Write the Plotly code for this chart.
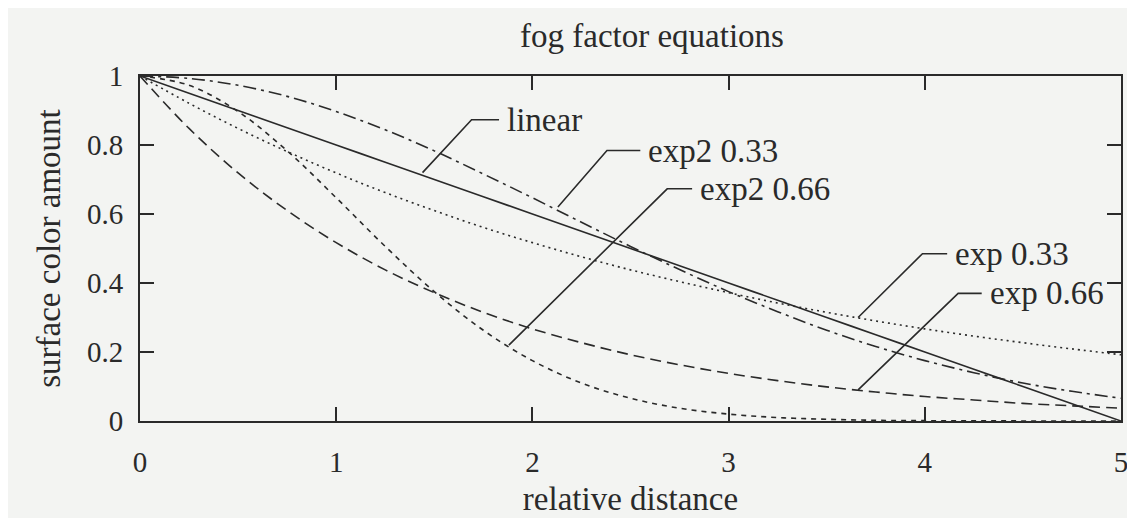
import plotly.graph_objects as go

# relative distance sampled along the x axis
distance = [0, 0.25, 0.5, 0.75, 1, 1.25, 1.5, 1.75, 2, 2.25, 2.5,
            2.75, 3, 3.25, 3.5, 3.75, 4, 4.25, 4.5, 4.75, 5]

# surface color amount
linear = [1, 0.95, 0.9, 0.85, 0.8, 0.75, 0.7, 0.65, 0.6, 0.55, 0.5,
          0.45, 0.4, 0.35, 0.3, 0.25, 0.2, 0.15, 0.1, 0.05, 0]
exp_033 = [1, 0.921, 0.848, 0.781, 0.719, 0.662, 0.610, 0.561, 0.517, 0.476, 0.438,
           0.404, 0.372, 0.342, 0.315, 0.290, 0.267, 0.246, 0.227, 0.209, 0.192]
exp_066 = [1, 0.848, 0.719, 0.610, 0.517, 0.438, 0.372, 0.315, 0.267, 0.227, 0.192,
           0.163, 0.138, 0.117, 0.099, 0.084, 0.071, 0.061, 0.051, 0.044, 0.037]
exp2_033 = [1, 0.993, 0.973, 0.941, 0.897, 0.844, 0.783, 0.716, 0.647, 0.576, 0.506,
            0.439, 0.375, 0.317, 0.263, 0.216, 0.175, 0.140, 0.110, 0.086, 0.066]
exp2_066 = [1, 0.973, 0.897, 0.783, 0.647, 0.506, 0.375, 0.263, 0.175, 0.110, 0.066,
            0.037, 0.020, 0.010, 0.005, 0.002, 0.001, 0.0004, 0.0002, 0.0001, 0.0]

tick_vals_y = [0, 0.2, 0.4, 0.6, 0.8, 1]
tick_text_y = ["0", "0.2", "0.4", "0.6", "0.8", "1"]
tick_vals_x = [0, 1, 2, 3, 4, 5]

INK = "#2a2a2a"
FONT = "Liberation Serif"

fig = go.Figure()

styles = [
    (linear, "linear", "solid"),
    (exp_033, "exp 0.33", "2px,4px"),
    (exp_066, "exp 0.66", "11px,6px"),
    (exp2_033, "exp2 0.33", "13px,5px,3px,5px"),
    (exp2_066, "exp2 0.66", "5px,5px"),
]
for ys, name, dash in styles:
    fig.add_trace(go.Scatter(x=distance, y=ys, name=name, mode="lines",
                             line=dict(color=INK, width=1.6, dash=dash, shape="spline"),
                             showlegend=False))

# labels with leader lines: (text, start, elbow, end of leader)
labels = [
    ("linear", (1.44, 0.72), (1.69, 0.873), (1.83, 0.873)),
    ("exp2 0.33", (2.13, 0.62), (2.38, 0.784), (2.55, 0.784)),
    ("exp2 0.66", (1.88, 0.22), (2.687, 0.673), (2.814, 0.673)),
    ("exp 0.33", (3.66, 0.30), (3.988, 0.485), (4.114, 0.485)),
    ("exp 0.66", (3.66, 0.09), (4.17, 0.37), (4.29, 0.37)),
]
for text, p0, p1, p2 in labels:
    fig.add_shape(type="path", xref="x", yref="y",
                  path=f"M {p0[0]},{p0[1]} L {p1[0]},{p1[1]} L {p2[0]},{p2[1]}",
                  line=dict(color=INK, width=1.6))
    fig.add_annotation(x=p2[0], y=p2[1], xref="x", yref="y", text=text,
                       showarrow=False, xanchor="left", yanchor="middle", xshift=6,
                       font=dict(family=FONT, size=33, color=INK))

fig.add_annotation(x=0.522, y=1, xref="paper", yref="paper", text="fog factor equations",
                   showarrow=False, xanchor="center", yanchor="middle", yshift=40,
                   font=dict(family=FONT, size=33, color=INK))

axis_common = dict(showgrid=False, zeroline=False, showline=True, linecolor=INK,
                   linewidth=2, mirror="ticks", ticks="inside", ticklen=14,
                   tickwidth=2, tickcolor=INK,
                   tickfont=dict(family=FONT, size=29, color=INK))

fig.update_xaxes(range=[0, 5], tickvals=tick_vals_x, ticklabelstandoff=14,
                 title=dict(text="relative distance", standoff=10,
                            font=dict(family=FONT, size=33, color=INK)),
                 **axis_common)
fig.update_yaxes(range=[0, 1], tickvals=tick_vals_y, ticktext=tick_text_y,
                 ticklabelstandoff=9,
                 title=dict(text="surface color amount", standoff=16,
                            font=dict(family=FONT, size=33, color=INK)),
                 **axis_common)

# the page body adds 8px around the figure, so the figure is sized to end at the window edge
fig.update_layout(width=1127, height=510,
                  margin=dict(l=132, r=7, t=68, b=76),
                  paper_bgcolor="#f3f4f2", plot_bgcolor="#f3f4f2",
                  font=dict(family=FONT, color=INK))

fig.write_html("out.html")
